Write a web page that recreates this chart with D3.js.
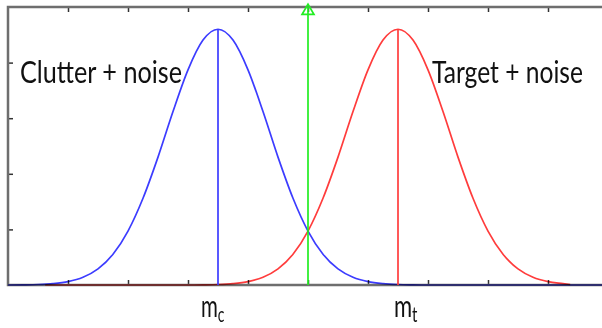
<!DOCTYPE html>
<html>
<head>
<meta charset="utf-8">
<script src="https://cdn.jsdelivr.net/npm/d3@7"></script>
<style>
  html, body { margin: 0; padding: 0; background: #fff; }
  svg { display: block; }
  .curve { fill: none; mix-blend-mode: multiply; }
</style>
</head>
<body>
<svg id="chart" width="602" height="328"></svg>
<script>
// Clutter + noise density (blue), sampled every 0.25 along x
const clutterX = d3.range(0, 10.001, 0.25);
const clutterY = [
  0.0000, 0.0003, 0.0009, 0.0025, 0.0061, 0.0139, 0.0289, 0.0553, 0.0970, 0.1560,
  0.2300, 0.3120, 0.3870, 0.4405, 0.4600, 0.4405, 0.3870, 0.3120, 0.2300, 0.1560,
  0.0970, 0.0553, 0.0289, 0.0139, 0.0061, 0.0025, 0.0009, 0.0003, 0.0000, 0.0000,
  0.0000, 0.0000, 0.0000, 0.0000, 0.0000, 0.0000, 0.0000, 0.0000, 0.0000, 0.0000,
  0.0000
];

// Target + noise density (red)
const targetX = [0.62, 0.75, 1.0, 1.25, 1.5, 1.75, 2.0, 2.25, 2.5, 2.75, 3.0, 3.25, 3.5, 3.75,
  4.0, 4.25, 4.5, 4.75, 5.0, 5.25, 5.5, 5.75, 6.0, 6.25, 6.5, 6.75, 7.0, 7.25, 7.5, 7.75,
  8.0, 8.25, 8.5, 8.75, 9.0, 9.25, 9.37];
const targetY = [0.0000, 0.0000, 0.0000, 0.0000, 0.0000, 0.0000, 0.0000, 0.0000, 0.0000, 0.0000,
  0.0000, 0.0003, 0.0009, 0.0025, 0.0061, 0.0139, 0.0289, 0.0553, 0.0970, 0.1560,
  0.2300, 0.3120, 0.3870, 0.4405, 0.4600, 0.4405, 0.3870, 0.3120, 0.2300, 0.1560,
  0.0970, 0.0553, 0.0289, 0.0139, 0.0061, 0.0025, 0.0009];

// Means and the decision threshold
const means = [3.5, 6.5];
const peaks = [0.46, 0.46];
const threshold = 5.0;

const xTicks = [1, 2, 3, 4, 5, 6, 7, 8, 9];
const yTicks = [0.1, 0.2, 0.3, 0.4];

const svg = d3.select("#chart");
const plotLeft = 8, plotRight = 608, plotTop = 7, plotBottom = 285;

const x = d3.scaleLinear().domain([0, 10]).range([plotLeft, plotRight]);
const y = d3.scaleLinear().domain([0, 0.5]).range([plotBottom, plotTop]);

// Axes frame with inward ticks on all four sides
const axisColor = "#6e6e6e";
const tickLen = 5;
const frame = svg.append("g");
frame.append("g").attr("transform", `translate(0,${plotBottom})`)
  .call(d3.axisBottom(x).tickValues(xTicks).tickSize(-tickLen).tickFormat(""));
frame.append("g").attr("transform", `translate(0,${plotTop})`)
  .call(d3.axisTop(x).tickValues(xTicks).tickSize(-tickLen).tickFormat(""));
frame.append("g").attr("transform", `translate(${plotLeft},0)`)
  .call(d3.axisLeft(y).tickValues(yTicks).tickSize(-tickLen).tickFormat(""));
frame.append("g").attr("transform", `translate(${plotRight},0)`)
  .call(d3.axisRight(y).tickValues(yTicks).tickSize(-tickLen).tickFormat(""));
frame.selectAll(".domain").remove();
frame.selectAll(".tick line").attr("stroke", "#333").attr("stroke-width", 1.5);
frame.append("rect")
  .attr("x", plotLeft).attr("y", plotTop)
  .attr("width", plotRight - plotLeft).attr("height", plotBottom - plotTop)
  .attr("fill", "none").attr("stroke", axisColor).attr("stroke-width", 2.5);

const line = d3.line().x(d => x(d[0])).y(d => y(d[1])).curve(d3.curveMonotoneX);

const blue = "#3c3cff", red = "#ff3c3c", green = "#22ee22";

svg.append("path").attr("class", "curve")
  .attr("d", line(d3.zip(clutterX, clutterY)))
  .attr("stroke", blue).attr("stroke-width", 1.7);
svg.append("path").attr("class", "curve")
  .attr("d", line(d3.zip(targetX, targetY)))
  .attr("stroke", red).attr("stroke-width", 1.7);

// Vertical lines at the two means
[blue, red].forEach((c, i) => {
  svg.append("line")
    .attr("x1", x(means[i])).attr("x2", x(means[i]))
    .attr("y1", y(0)).attr("y2", y(peaks[i]))
    .attr("stroke", c).attr("stroke-width", 1.7);
});

// Threshold line with triangle marker at the top
svg.append("line")
  .attr("x1", x(threshold)).attr("x2", x(threshold))
  .attr("y1", y(0)).attr("y2", y(0.5))
  .attr("stroke", green).attr("stroke-width", 1.7);
svg.append("path")
  .attr("d", d3.symbol(d3.symbolTriangle, 62)())
  .attr("transform", `translate(${x(threshold)},${y(0.5) + 4})`)
  .attr("fill", "none").attr("stroke", green).attr("stroke-width", 1.7);

// Labels (slightly tall, narrow lettering)
const font = "Lato, 'Open Sans', sans-serif";
function tallText(str, px, py, size, width) {
  return svg.append("text").text(str)
    .attr("transform", `translate(${px},${py}) scale(1,1.25)`)
    .attr("font-family", font).attr("font-size", size).attr("fill", "#111")
    .attr("textLength", width).attr("lengthAdjust", "spacingAndGlyphs");
}
tallText("Clutter + noise", 20, 83, 24.5, 162);
tallText("Target + noise", 432, 83, 24.5, 151);

// Mean labels m_c and m_t, each one text with a subscript span
const subLabels = [
  { main: "m", sub: "c", dx: -17 },
  { main: "m", sub: "t", dx: -4 }
];
subLabels.forEach((s, i) => {
  const t = tallText(s.main, x(means[i]) + s.dx, 317, 25, 23.5);
  t.append("tspan").text(s.sub)
    .attr("dy", 4).attr("font-size", 17);
});
</script>
</body>
</html>
